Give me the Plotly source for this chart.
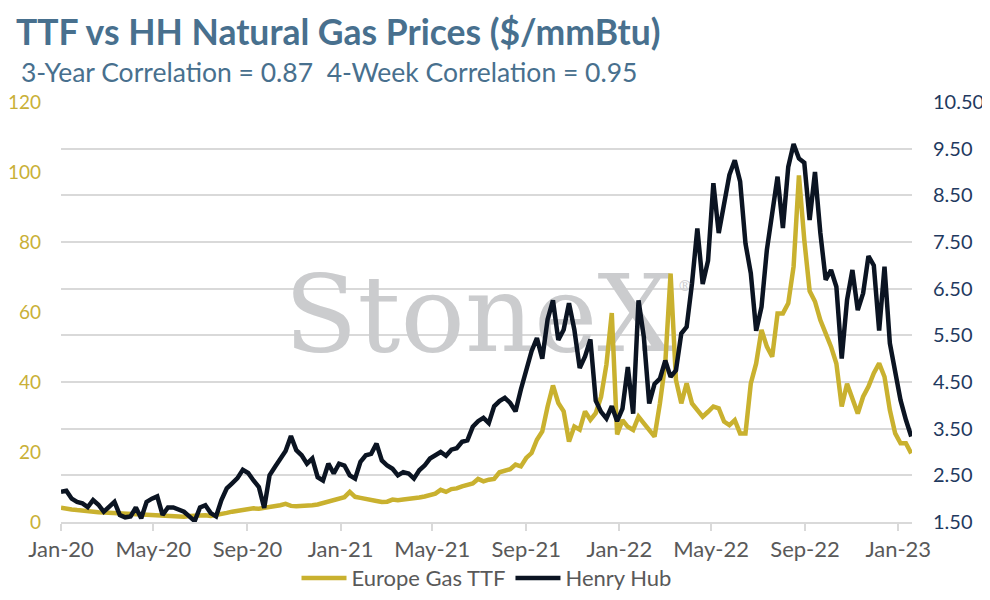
import pandas as pd
import plotly.graph_objects as go

# weekly readings, first week of Jan 2020 to mid Jan 2023
ttf = [4.1, 4.0, 3.6, 3.4, 3.2, 2.95, 3.0, 2.8, 2.7, 2.6,
       2.5, 2.4, 2.3, 2.4, 2.2, 2.1, 2.2, 2.0, 2.0, 1.8,
       1.5, 1.6, 1.4, 1.5, 1.7, 1.8, 2.0, 1.9, 1.7, 1.9,
       2.3, 2.6, 2.95, 3.2, 3.5, 3.8, 3.9, 3.8, 4.0, 4.3,
       4.6, 4.8, 5.2, 4.6, 4.5, 4.5, 4.6, 4.8, 5.0, 5.4,
       5.9, 6.4, 6.7, 7.1, 8.6, 7.2, 6.9, 6.5, 6.2, 6.0,
       5.7, 5.8, 6.4, 6.2, 6.4, 6.5, 6.7, 7.0, 7.3, 7.6,
       8.1, 9.2, 8.6, 9.4, 9.6, 10.2, 10.5, 11.0, 12.3, 11.6,
       12.1, 12.3, 14.2, 14.5, 15.1, 16.4, 15.9, 18.3, 19.7, 23.5,
       25.9, 33.0, 39.0, 34.0, 31.6, 23.0, 27.3, 26.4, 31.6, 29.2,
       31.1, 35.8, 45.0, 59.7, 25.0, 29.1, 27.2, 26.3, 30.1, 28.2,
       26.3, 24.4, 33.9, 45.3, 71.0, 40.6, 33.9, 39.6, 33.9, 32.0,
       30.1, 31.5, 33.0, 32.5, 28.7, 27.7, 29.1, 25.3, 25.3, 39.6,
       45.3, 54.9, 50.1, 47.2, 59.6, 59.6, 62.5, 73.0, 99.0, 80.6,
       66.0, 63.0, 57.7, 53.9, 50.1, 45.3, 33.0, 39.5, 34.9, 31.0,
       35.8, 38.7, 42.5, 45.3, 41.5, 32.0, 25.3, 22.5, 22.5, 19.6]

henry_hub = [2.15, 2.17, 2.0, 1.93, 1.9, 1.82, 1.97, 1.87, 1.72, 1.81,
             1.93, 1.65, 1.6, 1.62, 1.81, 1.58, 1.93, 2.0, 2.05, 1.65,
             1.81, 1.81, 1.77, 1.72, 1.62, 1.52, 1.81, 1.86, 1.69, 1.62,
             1.97, 2.22, 2.33, 2.44, 2.62, 2.55, 2.39, 2.25, 1.8, 2.5,
             2.68, 2.84, 3.02, 3.34, 3.04, 2.93, 2.75, 2.86, 2.46, 2.39,
             2.75, 2.54, 2.75, 2.71, 2.5, 2.43, 2.79, 2.93, 2.96, 3.18,
             2.82, 2.71, 2.64, 2.5, 2.57, 2.54, 2.43, 2.61, 2.71, 2.86,
             2.93, 3.0, 2.92, 3.05, 3.08, 3.22, 3.25, 3.54, 3.66, 3.73,
             3.62, 3.98, 4.09, 4.16, 4.05, 3.87, 4.34, 4.76, 5.16, 5.44,
             5.0, 5.84, 6.25, 5.4, 5.62, 6.19, 5.62, 4.8, 5.05, 5.41,
             4.1, 3.86, 3.72, 3.98, 3.66, 3.93, 4.82, 3.82, 6.25, 5.46,
             4.04, 4.46, 4.57, 4.96, 4.61, 4.75, 5.54, 5.68, 6.61, 7.79,
             6.6, 7.1, 8.76, 7.69, 8.33, 8.94, 9.25, 8.8, 7.47, 6.83,
             5.6, 6.11, 7.33, 8.2, 8.9, 7.8, 9.11, 9.6, 9.29, 9.2,
             7.97, 9.0, 7.7, 6.69, 6.9, 6.54, 5.0, 6.26, 6.9, 6.04,
             6.4, 7.2, 7.0, 5.6, 6.97, 5.33, 4.69, 4.11, 3.69, 3.33]

dates = pd.date_range("2020-01-01", periods=len(ttf), freq="7D")

gold = "#c9b12f"
navy = "#0b1422"
blue = "#48708e"
font = "Lato"

fig = go.Figure()

# StoneX watermark sits under the lines
fig.add_trace(go.Scatter(
    x=["2021-07-01"], y=[56.4], mode="text", text=["StoneX"],
    textfont=dict(family="DejaVu Serif", size=107, color="#cbccce"),
    showlegend=False, hoverinfo="skip",
))
fig.add_trace(go.Scatter(
    x=["2022-03-28"], y=[67.0], mode="text", text=["®"],
    textfont=dict(family="DejaVu Serif", size=15, color="#cbccce"),
    showlegend=False, hoverinfo="skip",
))

fig.add_trace(go.Scatter(
    x=dates, y=ttf, name="Europe Gas TTF", mode="lines",
    line=dict(color=gold, width=4.5),
))
fig.add_trace(go.Scatter(
    x=dates, y=henry_hub, name="Henry Hub", mode="lines", yaxis="y2",
    line=dict(color=navy, width=4.5),
))

# page body adds an 8px margin, so the figure is 8px smaller
fig.update_layout(
    width=982, height=592,
    margin=dict(l=53, r=78, t=94, b=78),
    plot_bgcolor="white", paper_bgcolor="white",
    font=dict(family=font, color="#595959"),
    annotations=[
        dict(text="<b>TTF vs HH Natural Gas Prices ($/mmBtu)</b>",
             xref="paper", yref="paper", x=-0.055, y=1.168,
             xanchor="left", yanchor="middle", showarrow=False,
             font=dict(family=font, size=35.5, color=blue)),
        dict(text="3-Year Correlation = 0.87  4-Week Correlation = 0.95",
             xref="paper", yref="paper", x=-0.0495, y=1.071,
             xanchor="left", yanchor="middle", showarrow=False,
             font=dict(family=font, size=26.5, color=blue)),
    ],
    xaxis=dict(
        type="date", range=["2020-01-01", "2023-01-19"], automargin=False,
        tick0="2020-01-01", dtick="M4", tickformat="%b-%y",
        ticks="outside", ticklen=7, tickwidth=2, tickcolor="#d9d9d9",
        showgrid=False, showline=True, linecolor="#d9d9d9", linewidth=2,
        tickfont=dict(size=22, color="#595959"),
    ),
    yaxis=dict(
        range=[0, 120], dtick=20, showgrid=False, zeroline=False, automargin=False,
        tickfont=dict(size=19, color="#c9b037"), ticklabelstandoff=19,
    ),
    yaxis2=dict(
        range=[1.5, 10.5], tick0=1.5, dtick=1, tickformat=".2f",
        overlaying="y", side="right", automargin=False,
        showgrid=True, gridcolor="#d9d9d9", gridwidth=2, zeroline=False,
        tickfont=dict(size=20, color="#1f3a5f"), ticklabelstandoff=20,
    ),
    legend=dict(
        orientation="h", x=0.5, xanchor="center",
        yref="container", y=0.037, yanchor="middle",
        bgcolor="rgba(0,0,0,0)",
        font=dict(size=22, color="#595959"), itemwidth=45,
    ),
)

fig.write_html("out.html")
